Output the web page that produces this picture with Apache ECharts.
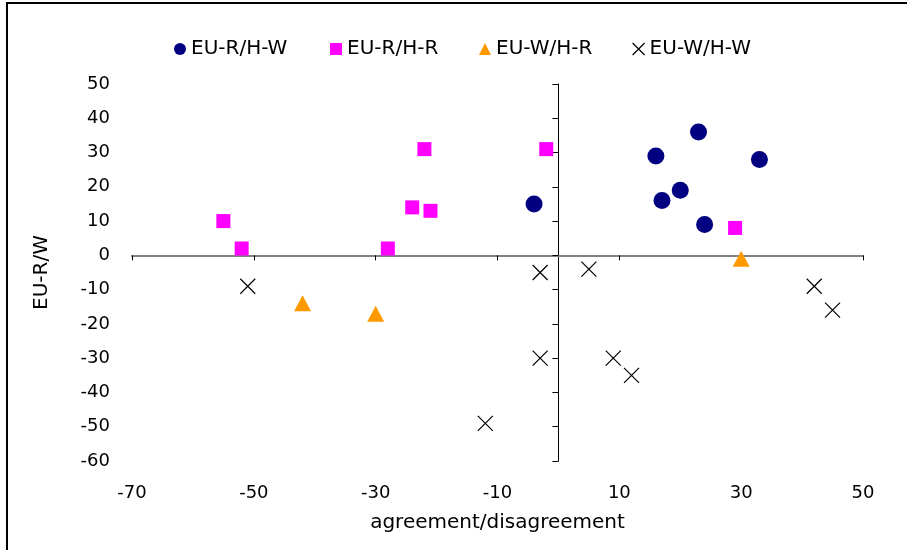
<!DOCTYPE html>
<html>
<head>
<meta charset="utf-8">
<script src="https://cdn.jsdelivr.net/npm/echarts@6/dist/echarts.min.js"></script>
<style>
html, body { margin: 0; padding: 0; background: #fff; }
#frame { position: absolute; left: 6px; top: 2px; width: 901px; height: 548px; border-left: 2px solid #000; border-top: 2px solid #000; box-sizing: border-box; }
#chart { position: absolute; left: 0; top: 0; width: 907px; height: 550px; }
</style>
</head>
<body>
<div id="chart"></div>
<div id="frame"></div>
<script>
// series names (legend order)
const seriesNames = ['EU-R/H-W', 'EU-R/H-R', 'EU-W/H-R', 'EU-W/H-W'];

// points [agreement/disagreement, EU-R/W]
const euRHW = [[-4, 15], [16, 29], [23, 36], [33, 28], [20, 19], [17, 16], [24, 9]];
const euRHR = [[-55, 10], [-52, 2], [-28, 2], [-24, 14], [-22, 31], [-21, 13], [-2, 31], [29, 8]];
const euWHR = [[-42, -14], [-30, -17], [30, -1]];
const euWHW = [[-51, -9], [-12, -49], [-3, -5], [-3, -30], [5, -4], [9, -30], [12, -35], [42, -9], [45, -16]];

// axis ranges
const xRange = [-70, 50, 20];
const yRange = [-60, 50, 10];

const font = 'DejaVu Sans';
const chart = echarts.init(document.getElementById('chart'));

const gridBox = { left: 132, right: 44, top: 84, bottom: 89 };
const legendLefts = [169, 325, 474, 627];
const crossMark = 'path://M0,0L10,10M10,0L0,10';

const option = {
  animation: false,
  backgroundColor: '#fff',
  legend: seriesNames.map((n, i) => ({
    data: [n],
    left: legendLefts[i],
    top: 34,
    itemWidth: 12,
    itemHeight: 12,
    itemGap: 0,
    textStyle: { fontFamily: font, fontSize: 20, color: '#000' },
    itemStyle: i === 3 ? { borderWidth: 1.2 } : {}
  })),
  grid: [Object.assign({}, gridBox), Object.assign({}, gridBox)],
  xAxis: [
    {
      gridIndex: 0, type: 'value', min: xRange[0], max: xRange[1], interval: xRange[2],
      axisLine: { onZero: true, lineStyle: { color: '#808080', width: 2 } },
      axisTick: { show: true, length: 5, lineStyle: { color: '#000' } },
      axisLabel: { show: false },
      splitLine: { show: false }
    },
    {
      gridIndex: 1, type: 'value', min: xRange[0], max: xRange[1], interval: xRange[2],
      axisLine: { show: false, onZero: false },
      axisTick: { show: false },
      splitLine: { show: false },
      axisLabel: { margin: 23, fontFamily: font, fontSize: 18, color: '#000' },
      name: 'agreement/disagreement',
      nameLocation: 'middle',
      nameGap: 52,
      nameTextStyle: { fontFamily: font, fontSize: 20, color: '#000' }
    }
  ],
  yAxis: [
    {
      gridIndex: 0, type: 'value', min: yRange[0], max: yRange[1], interval: yRange[2],
      axisLine: { show: true, onZero: true, lineStyle: { color: '#000', width: 1 } },
      axisTick: { show: true, length: 6, lineStyle: { color: '#000' } },
      axisLabel: { show: false },
      splitLine: { show: false }
    },
    {
      gridIndex: 1, type: 'value', min: yRange[0], max: yRange[1], interval: yRange[2],
      axisLine: { show: false, onZero: false },
      axisTick: { show: false },
      splitLine: { show: false },
      axisLabel: { margin: 22, fontFamily: font, fontSize: 18, color: '#000' },
      name: 'EU-R/W',
      nameLocation: 'middle',
      nameGap: 80,
      nameTextStyle: { fontFamily: font, fontSize: 20, color: '#000' }
    }
  ],
  series: [
    {
      name: seriesNames[0], type: 'scatter', xAxisIndex: 0, yAxisIndex: 0,
      symbol: 'circle', symbolSize: 17, data: euRHW,
      itemStyle: { color: '#000080', opacity: 1 }
    },
    {
      name: seriesNames[1], type: 'scatter', xAxisIndex: 0, yAxisIndex: 0,
      symbol: 'rect', symbolSize: 14, data: euRHR,
      itemStyle: { color: '#ff00ff', opacity: 1 }
    },
    {
      name: seriesNames[2], type: 'scatter', xAxisIndex: 0, yAxisIndex: 0,
      symbol: 'triangle', symbolSize: [17, 16], data: euWHR,
      itemStyle: { color: '#ff9900', opacity: 1 }
    },
    {
      name: seriesNames[3], type: 'scatter', xAxisIndex: 0, yAxisIndex: 0,
      symbol: crossMark, symbolSize: 15, data: euWHW,
      itemStyle: { color: 'rgba(0,0,0,0)', borderColor: '#000', borderWidth: 1.2, opacity: 1 }
    }
  ]
};

chart.setOption(option);
</script>
</body>
</html>
